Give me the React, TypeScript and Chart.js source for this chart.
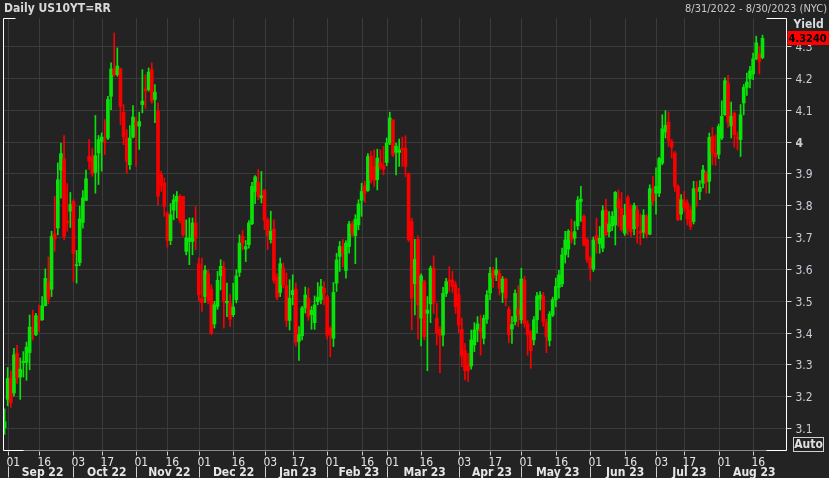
import { useEffect, useRef } from 'react';
import { Chart, registerables } from 'chart.js';

Chart.register(...registerables);

// ---------- data ----------
const START_DATE = '2022-08-31';
const END_DATE = '2023-08-30';
const HOLIDAYS = [
  '2022-09-05', '2022-10-10', '2022-11-11', '2022-11-24', '2022-12-26',
  '2023-01-02', '2023-01-16', '2023-02-20', '2023-05-29', '2023-06-19', '2023-07-04',
];

const OPEN = [
  3.10, 3.19, 3.257, 3.21, 3.335, 3.26, 3.305, 3.306, 3.337, 3.41,
  3.393, 3.44, 3.44, 3.484, 3.56, 3.536, 3.71, 3.728, 3.91, 3.946,
  3.75, 3.781, 3.812, 3.61, 3.62, 3.746, 3.815, 3.954, 3.952, 3.903,
  3.964, 4.00, 4.00, 4.011, 4.142, 4.228, 4.21, 4.228, 4.092, 4.011,
  3.927, 4.014, 4.058, 4.048, 4.116, 4.165, 4.163, 4.226, 4.132, 4.095,
  3.896, 3.87, 3.775, 3.689, 3.784, 3.812, 3.828, 3.828, 3.655, 3.686,
  3.686, 3.744, 3.616, 3.508, 3.513, 3.585, 3.536, 3.427, 3.482, 3.578,
  3.603, 3.493, 3.493, 3.456, 3.503, 3.589, 3.702, 3.662, 3.676, 3.742,
  3.843, 3.872, 3.823, 3.847, 3.754, 3.692, 3.725, 3.574, 3.526, 3.603,
  3.547, 3.438, 3.519, 3.536, 3.372, 3.39, 3.477, 3.508, 3.456, 3.431,
  3.497, 3.503, 3.539, 3.513, 3.413, 3.382, 3.555, 3.639, 3.67, 3.595,
  3.67, 3.741, 3.704, 3.738, 3.815, 3.861, 3.846, 3.955, 3.922, 3.88,
  3.934, 3.924, 3.934, 3.995, 4.068, 3.966, 3.966, 3.979, 3.979, 3.899,
  3.749, 3.553, 3.693, 3.445, 3.56, 3.46, 3.49, 3.602, 3.445, 3.41,
  3.392, 3.523, 3.565, 3.565, 3.55, 3.518, 3.41, 3.343, 3.301, 3.295,
  3.361, 3.408, 3.413, 3.382, 3.442, 3.524, 3.597, 3.581, 3.586, 3.526,
  3.568, 3.473, 3.411, 3.434, 3.473, 3.44, 3.563, 3.427, 3.403, 3.377,
  3.44, 3.505, 3.515, 3.431, 3.375, 3.455, 3.503, 3.542, 3.553, 3.644,
  3.662, 3.714, 3.696, 3.735, 3.812, 3.765, 3.691, 3.634, 3.599, 3.704,
  3.679, 3.665, 3.785, 3.717, 3.735, 3.738, 3.819, 3.791, 3.712, 3.824,
  3.788, 3.726, 3.785, 3.719, 3.715, 3.765, 3.709, 3.838, 3.838, 3.838,
  3.932, 4.03, 4.061, 4.0, 3.964, 3.859, 3.772, 3.814, 3.806, 3.785,
  3.749, 3.852, 3.843, 3.869, 3.901, 3.875, 4.016, 3.964, 3.96, 4.011,
  4.084, 4.184, 4.049, 4.089, 4.011, 4.006, 4.121, 4.17, 4.197, 4.212,
  4.26, 4.275, 4.264,
];

const HIGH = [
  3.16, 3.29, 3.28, 3.35, 3.36, 3.32, 3.34, 3.37, 3.455, 3.47,
  3.46, 3.486, 3.513, 3.60, 3.637, 3.718, 3.828, 3.933, 3.994, 4.019,
  3.868, 3.84, 3.817, 3.658, 3.797, 3.846, 3.91, 4.006, 3.978, 4.082,
  4.019, 4.027, 4.069, 4.142, 4.247, 4.341, 4.294, 4.231, 4.116, 4.037,
  4.05, 4.113, 4.077, 4.092, 4.226, 4.21, 4.231, 4.247, 4.179, 4.121,
  3.906, 3.885, 3.78, 3.805, 3.833, 3.843, 3.833, 3.828, 3.754, 3.76,
  3.76, 3.796, 3.634, 3.634, 3.61, 3.597, 3.55, 3.498, 3.592, 3.629,
  3.623, 3.555, 3.52, 3.555, 3.597, 3.707, 3.721, 3.689, 3.752, 3.872,
  3.893, 3.912, 3.906, 3.849, 3.76, 3.781, 3.754, 3.585, 3.634, 3.618,
  3.587, 3.566, 3.581, 3.555, 3.419, 3.482, 3.543, 3.54, 3.482, 3.515,
  3.557, 3.567, 3.56, 3.518, 3.418, 3.557, 3.649, 3.686, 3.693, 3.689,
  3.749, 3.749, 3.77, 3.817, 3.869, 3.875, 3.962, 3.969, 3.974, 3.976,
  3.974, 3.985, 4.011, 4.092, 4.068, 3.995, 4.008, 4.014, 4.018, 3.901,
  3.759, 3.693, 3.704, 3.584, 3.565, 3.513, 3.609, 3.641, 3.492, 3.418,
  3.542, 3.57, 3.607, 3.592, 3.56, 3.539, 3.445, 3.366, 3.335, 3.408,
  3.431, 3.45, 3.455, 3.455, 3.532, 3.605, 3.605, 3.634, 3.597, 3.576,
  3.571, 3.481, 3.45, 3.534, 3.547, 3.602, 3.576, 3.437, 3.406, 3.45,
  3.526, 3.529, 3.526, 3.442, 3.466, 3.511, 3.571, 3.595, 3.665, 3.718,
  3.723, 3.756, 3.749, 3.827, 3.859, 3.77, 3.696, 3.639, 3.70, 3.759,
  3.733, 3.798, 3.819, 3.78, 3.78, 3.843, 3.848, 3.84, 3.803, 3.83,
  3.801, 3.807, 3.796, 3.772, 3.786, 3.77, 3.864, 3.89, 3.917, 3.95,
  4.084, 4.097, 4.093, 4.006, 3.969, 3.864, 3.833, 3.843, 3.817, 3.796,
  3.875, 3.875, 3.877, 3.925, 3.906, 4.027, 4.044, 4.021, 4.055, 4.128,
  4.2, 4.208, 4.124, 4.093, 4.03, 4.116, 4.179, 4.215, 4.236, 4.278,
  4.331, 4.299, 4.334,
];

const LOW = [
  3.08, 3.17, 3.165, 3.20, 3.24, 3.19, 3.26, 3.25, 3.283, 3.377,
  3.39, 3.403, 3.438, 3.484, 3.49, 3.513, 3.655, 3.707, 3.822, 3.692,
  3.718, 3.73, 3.56, 3.555, 3.61, 3.728, 3.815, 3.912, 3.891, 3.838,
  3.865, 3.907, 3.959, 4.006, 4.10, 4.205, 4.205, 4.053, 3.99, 3.90,
  3.912, 4.011, 3.922, 3.975, 4.09, 4.104, 4.158, 4.12, 4.059, 3.802,
  3.843, 3.765, 3.668, 3.676, 3.754, 3.76, 3.744, 3.702, 3.644, 3.613,
  3.644, 3.66, 3.498, 3.466, 3.494, 3.49, 3.393, 3.414, 3.473, 3.534,
  3.414, 3.45, 3.419, 3.45, 3.493, 3.576, 3.66, 3.623, 3.665, 3.739,
  3.805, 3.817, 3.807, 3.723, 3.66, 3.681, 3.555, 3.503, 3.513, 3.54,
  3.419, 3.408, 3.487, 3.358, 3.312, 3.377, 3.461, 3.438, 3.41, 3.41,
  3.487, 3.49, 3.487, 3.379, 3.324, 3.356, 3.529, 3.592, 3.607, 3.571,
  3.649, 3.702, 3.616, 3.723, 3.765, 3.809, 3.843, 3.869, 3.859, 3.848,
  3.911, 3.895, 3.924, 3.99, 3.953, 3.895, 3.922, 3.922, 3.89, 3.686,
  3.408, 3.455, 3.379, 3.358, 3.377, 3.28, 3.431, 3.46, 3.361, 3.274,
  3.358, 3.513, 3.529, 3.526, 3.46, 3.398, 3.293, 3.251, 3.246, 3.285,
  3.34, 3.371, 3.329, 3.364, 3.429, 3.503, 3.542, 3.563, 3.518, 3.494,
  3.484, 3.368, 3.366, 3.424, 3.419, 3.429, 3.417, 3.329, 3.288, 3.361,
  3.398, 3.471, 3.42, 3.337, 3.358, 3.45, 3.481, 3.508, 3.544, 3.618,
  3.637, 3.681, 3.676, 3.723, 3.749, 3.672, 3.62, 3.564, 3.592, 3.649,
  3.649, 3.654, 3.704, 3.70, 3.72, 3.675, 3.733, 3.718, 3.705, 3.707,
  3.702, 3.707, 3.681, 3.675, 3.697, 3.697, 3.707, 3.801, 3.772, 3.827,
  3.927, 4.011, 3.985, 3.948, 3.843, 3.751, 3.754, 3.78, 3.738, 3.723,
  3.741, 3.796, 3.817, 3.854, 3.838, 3.838, 3.927, 3.925, 3.946, 4.006,
  4.082, 4.044, 4.011, 3.982, 3.974, 3.953, 4.084, 4.145, 4.168, 4.194,
  4.257, 4.212, 4.26,
];

const CLOSE = [
  3.12, 3.256, 3.18, 3.33, 3.257, 3.285, 3.31, 3.354, 3.417, 3.404,
  3.453, 3.437, 3.484, 3.57, 3.505, 3.702, 3.694, 3.88, 3.962, 3.702,
  3.744, 3.802, 3.648, 3.613, 3.757, 3.823, 3.883, 3.938, 3.90, 3.956,
  4.006, 4.014, 3.997, 4.132, 4.228, 4.21, 4.237, 4.11, 4.014, 3.938,
  4.011, 4.077, 4.052, 4.063, 4.127, 4.159, 4.218, 4.127, 4.155, 3.828,
  3.864, 3.796, 3.689, 3.77, 3.817, 3.828, 3.752, 3.707, 3.697, 3.697,
  3.744, 3.697, 3.518, 3.494, 3.595, 3.50, 3.398, 3.487, 3.564, 3.608,
  3.498, 3.498, 3.442, 3.48, 3.578, 3.681, 3.681, 3.67, 3.744, 3.859,
  3.889, 3.828, 3.83, 3.752, 3.704, 3.718, 3.564, 3.511, 3.616, 3.55,
  3.438, 3.508, 3.532, 3.369, 3.393, 3.477, 3.518, 3.45, 3.47, 3.487,
  3.511, 3.544, 3.523, 3.392, 3.392, 3.526, 3.628, 3.67, 3.649, 3.681,
  3.741, 3.712, 3.756, 3.804, 3.843, 3.838, 3.953, 3.88, 3.878, 3.948,
  3.92, 3.913, 3.995, 4.074, 3.958, 3.985, 3.974, 3.974, 3.922, 3.691,
  3.508, 3.63, 3.487, 3.578, 3.387, 3.471, 3.602, 3.494, 3.398, 3.392,
  3.523, 3.56, 3.56, 3.544, 3.481, 3.424, 3.326, 3.28, 3.28, 3.377,
  3.408, 3.427, 3.403, 3.445, 3.518, 3.586, 3.571, 3.597, 3.539, 3.568,
  3.508, 3.393, 3.425, 3.523, 3.455, 3.568, 3.429, 3.393, 3.343, 3.44,
  3.515, 3.518, 3.434, 3.387, 3.458, 3.503, 3.545, 3.581, 3.644, 3.691,
  3.718, 3.691, 3.717, 3.815, 3.819, 3.675, 3.63, 3.602, 3.691, 3.689,
  3.696, 3.783, 3.707, 3.741, 3.765, 3.84, 3.791, 3.723, 3.768, 3.728,
  3.717, 3.799, 3.733, 3.712, 3.768, 3.709, 3.852, 3.814, 3.859, 3.946,
  4.04, 4.051, 4.003, 3.982, 3.859, 3.754, 3.817, 3.793, 3.757, 3.733,
  3.852, 3.843, 3.856, 3.911, 3.873, 4.013, 3.964, 3.953, 4.047, 4.079,
  4.191, 4.061, 4.079, 4.021, 4.009, 4.084, 4.17, 4.187, 4.222, 4.26,
  4.31, 4.252, 4.324,
];

const DAY_TICK_DATES = [
  '2022-09-01', '2022-09-16', '2022-10-03', '2022-10-17', '2022-11-01', '2022-11-16',
  '2022-12-01', '2022-12-16', '2023-01-03', '2023-01-17', '2023-02-01', '2023-02-16',
  '2023-03-01', '2023-03-16', '2023-04-03', '2023-04-17', '2023-05-01', '2023-05-16',
  '2023-06-01', '2023-06-16', '2023-07-03', '2023-07-17', '2023-08-01', '2023-08-16',
];
const DAY_TICK_LABELS = [
  '01', '16', '03', '17', '01', '16', '01', '16', '03', '17', '01', '16',
  '01', '16', '03', '17', '01', '16', '01', '16', '03', '17', '01', '16',
];
const MONTH_START_DATES = [
  '2022-09-01', '2022-10-03', '2022-11-01', '2022-12-01', '2023-01-03', '2023-02-01',
  '2023-03-01', '2023-04-03', '2023-05-01', '2023-06-01', '2023-07-03', '2023-08-01',
];
const MONTH_LABELS = [
  'Sep 22', 'Oct 22', 'Nov 22', 'Dec 22', 'Jan 23', 'Feb 23',
  'Mar 23', 'Apr 23', 'May 23', 'Jun 23', 'Jul 23', 'Aug 23',
];
const Y_TICKS = [3.1, 3.2, 3.3, 3.4, 3.5, 3.6, 3.7, 3.8, 3.9, 4.0, 4.1, 4.2, 4.3];
const Y_TICK_LABELS = ['3.1', '3.2', '3.3', '3.4', '3.5', '3.6', '3.7', '3.8', '3.9', '4', '4.1', '4.2', '4.3'];
const LAST_LABEL = '4.3240';
const TITLE = 'Daily US10YT=RR';
const RANGE_TEXT = '8/31/2022 - 8/30/2023 (NYC)';
const AXIS_TITLE = 'Yield';

// ---------- helpers ----------
function buildTradingDays(): string[] {
  const out: string[] = [];
  const d = new Date(START_DATE + 'T00:00:00Z');
  const end = new Date(END_DATE + 'T00:00:00Z');
  while (d.getTime() <= end.getTime()) {
    const wd = d.getUTCDay();
    const iso = d.toISOString().slice(0, 10);
    if (wd !== 0 && wd !== 6 && HOLIDAYS.indexOf(iso) < 0) out.push(iso);
    d.setUTCDate(d.getUTCDate() + 1);
  }
  return out;
}

const BG = '#232323';
const GRID = '#3b3b3b';
const UP = '#08e408';
const DOWN = '#f80000';
const TEXT = '#c9ced6';
const FONT = '"DejaVu Sans Condensed", "Liberation Sans Narrow", "Liberation Sans", sans-serif';

export default function App() {
  const ref = useRef<HTMLCanvasElement | null>(null);

  useEffect(() => {
    document.body.style.margin = '0';
    document.body.style.background = BG;
    const canvas = ref.current;
    if (!canvas) return;
    const labels = buildTradingDays();
    const n = CLOSE.length;
    const wicks = [];
    const bodies = [];
    const colors = [];
    for (let i = 0; i < n; i++) {
      wicks.push([LOW[i], HIGH[i]]);
      bodies.push([OPEN[i], CLOSE[i]]);
      colors.push(CLOSE[i] >= OPEN[i] ? UP : DOWN);
    }
    const yMin = 3.031;
    const yMax = 4.388;

    const deco = {
      id: 'deco',
      beforeDraw(chart: any) {
        const c = chart.ctx;
        c.save();
        c.fillStyle = BG;
        c.fillRect(0, 0, chart.width, chart.height);
        c.restore();
      },
      beforeDatasetsDraw(chart: any) {
        const c = chart.ctx;
        const a = chart.chartArea;
        const xs = chart.scales.x;
        const ys = chart.scales.y;
        c.save();
        c.strokeStyle = GRID;
        c.lineWidth = 1;
        c.beginPath();
        Y_TICKS.forEach((v) => {
          const y = Math.round(ys.getPixelForValue(v)) + 0.5;
          c.moveTo(a.left, y);
          c.lineTo(a.right, y);
        });
        DAY_TICK_DATES.forEach((d) => {
          const i = labels.indexOf(d);
          if (i < 0) return;
          const x = Math.round(xs.getPixelForValue(i)) + 0.5;
          c.moveTo(x, a.top);
          c.lineTo(x, a.bottom);
        });
        c.stroke();
        c.restore();
      },
      afterDraw(chart: any) {
        const c = chart.ctx;
        const a = chart.chartArea;
        const xs = chart.scales.x;
        const ys = chart.scales.y;
        const L = Math.round(a.left) + 0.5;
        const R = Math.round(a.right) + 0.5;
        const T = Math.round(a.top) + 0.5;
        const B = Math.round(a.bottom) + 0.5;
        c.save();
        // bottom line
        c.strokeStyle = '#8a8a8a';
        c.lineWidth = 1;
        c.beginPath();
        c.moveTo(L, B);
        c.lineTo(R, B);
        c.stroke();
        // white frame pieces
        c.strokeStyle = '#ffffff';
        c.beginPath();
        c.moveTo(L, T); c.lineTo(L, B);
        c.moveTo(R, T); c.lineTo(R, B);
        c.moveTo(L, T); c.lineTo(L + 12, T);
        c.moveTo(R - 20, T); c.lineTo(R, T);
        c.moveTo(L, B); c.lineTo(L + 20, B);
        c.moveTo(R - 20, B); c.lineTo(R, B);
        c.stroke();

        // y ticks and labels
        c.textBaseline = 'middle';
        c.textAlign = 'left';
        Y_TICKS.forEach((v, k) => {
          const y = Math.round(ys.getPixelForValue(v)) + 0.5;
          c.strokeStyle = '#d0d0d0';
          c.beginPath();
          c.moveTo(R, y);
          c.lineTo(R + 5, y);
          c.stroke();
          c.fillStyle = TEXT;
          c.font = (v === 4 ? 'bold ' : '') + '12px ' + FONT;
          c.fillText(Y_TICK_LABELS[k], R + 9, y + 1);
        });

        // x day ticks and labels
        c.font = '12px ' + FONT;
        c.textBaseline = 'middle';
        DAY_TICK_DATES.forEach((d, k) => {
          const i = labels.indexOf(d);
          if (i < 0) return;
          const x = Math.round(xs.getPixelForValue(i)) + 0.5;
          c.strokeStyle = '#d0d0d0';
          c.beginPath();
          c.moveTo(x, B + 1);
          c.lineTo(x, B + 5);
          c.stroke();
          c.fillStyle = '#e6e6e6';
          c.textAlign = 'left';
          c.fillText(DAY_TICK_LABELS[k], x - 2, B + 12);
        });
        // month separators and labels
        c.font = 'bold 12px ' + FONT;
        const starts = MONTH_START_DATES.map((d) => xs.getPixelForValue(labels.indexOf(d)));
        starts.forEach((x0, k) => {
          const x = Math.round(x0) + 0.5;
          c.strokeStyle = '#d0d0d0';
          c.beginPath();
          c.moveTo(x, B + 16);
          c.lineTo(x, B + 27);
          c.stroke();
          const x1 = k + 1 < starts.length ? starts[k + 1] : a.right;
          c.fillStyle = '#e6e6e6';
          c.textAlign = 'center';
          c.fillText(MONTH_LABELS[k], (x0 + x1) / 2 + 2, B + 22);
        });

        // header texts
        c.textBaseline = 'middle';
        c.textAlign = 'left';
        c.fillStyle = '#d8d8d8';
        c.font = 'bold 12px ' + FONT;
        c.fillText(TITLE, 4, 9);
        c.textAlign = 'right';
        c.fillStyle = '#c8c8c8';
        c.font = '11px ' + FONT;
        c.fillText(RANGE_TEXT, chart.width - 2, 9);
        c.textAlign = 'left';
        c.fillStyle = '#d8dde4';
        c.font = 'bold 12px ' + FONT;
        c.fillText(AXIS_TITLE, R + 7, 25);

        // last value badge
        const yl = ys.getPixelForValue(CLOSE[n - 1]);
        c.fillStyle = '#ff0000';
        c.fillRect(R + 1, Math.round(yl) - 7, chart.width - R, 14);
        c.fillStyle = '#000000';
        c.font = 'bold 11px ' + FONT;
        c.fillText(LAST_LABEL, R + 2, Math.round(yl) + 1);

        // Auto box
        c.strokeStyle = '#d0d0d0';
        c.strokeRect(793.5, 437.5, 30, 14);
        c.fillStyle = '#e0e0e0';
        c.font = 'bold 12px ' + FONT;
        c.textAlign = 'center';
        c.fillText('Auto', 808.5, 445);
        c.restore();
      },
    };

    const chart = new Chart(canvas, {
      type: 'bar',
      data: {
        labels,
        datasets: [
          {
            data: wicks as any,
            backgroundColor: colors,
            barThickness: 1,
            grouped: false,
            borderWidth: 0,
            order: 2,
          } as any,
          {
            data: bodies as any,
            backgroundColor: colors,
            barThickness: 3,
            grouped: false,
            borderWidth: 0,
            minBarLength: 1,
            order: 1,
          } as any,
        ],
      },
      options: {
        animation: false,
        responsive: false,
        devicePixelRatio: 1,
        layout: { padding: { left: 3, right: 43, top: 18, bottom: 28 } },
        plugins: { legend: { display: false }, tooltip: { enabled: false } },
        scales: {
          x: { type: 'category', offset: true, display: false, grid: { display: false } },
          y: { min: yMin, max: yMax, display: false, grid: { display: false } },
        },
      },
      plugins: [deco],
    });
    return () => chart.destroy();
  }, []);

  return <canvas ref={ref} width={829} height={478} style={{ display: 'block' }} />;
}
